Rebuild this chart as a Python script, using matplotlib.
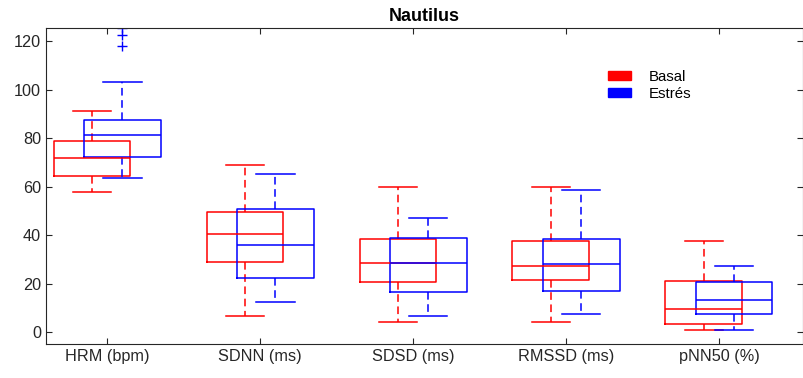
import numpy as np
import matplotlib.pyplot as plt
from matplotlib.patches import Patch

plt.rcParams['font.family'] = ['Liberation Sans', 'DejaVu Sans']

### Data ###

labels = ['HRM (bpm)', 'SDNN (ms)', 'SDSD (ms)', 'RMSSD (ms)', 'pNN50 (%)']

# Basal (red) - whislo, q1, med, q3, whishi
basal_lo = [57.7, 6.5, 4.1, 4.1, 0.8]
basal_q1 = [64.3, 29.1, 20.5, 21.3, 3.2]
basal_med = [71.9, 40.3, 28.7, 27.1, 9.4]
basal_q3 = [78.9, 49.6, 38.6, 37.4, 20.9]
basal_hi = [91.3, 69.0, 59.8, 59.7, 37.4]
basal_out = [[], [], [], [], []]

# Estres (blue)
estres_lo = [63.5, 12.4, 6.7, 7.4, 0.8]
estres_q1 = [72.3, 22.3, 16.4, 16.8, 7.3]
estres_med = [81.1, 36.0, 28.3, 27.9, 13.1]
estres_q3 = [87.6, 50.9, 38.8, 38.4, 20.5]
estres_hi = [103.1, 65.2, 47.0, 58.8, 27.3]
estres_out = [[125.3, 122.3, 117.9], [], [], [], []]


def make_stats(lo, q1, med, q3, hi, out):
    return [dict(whislo=lo[i], q1=q1[i], med=med[i], q3=q3[i], whishi=hi[i], fliers=out[i])
            for i in range(len(lo))]


fig = plt.figure(figsize=(8.04, 3.78), dpi=100)
ax = fig.add_axes([0.0572, 0.0899, 0.9416, 0.8361])

pos = np.arange(1, len(labels) + 1)

for stats, color, shift in [
        (make_stats(basal_lo, basal_q1, basal_med, basal_q3, basal_hi, basal_out), '#ff0000', -0.1),
        (make_stats(estres_lo, estres_q1, estres_med, estres_q3, estres_hi, estres_out), '#0000ff', 0.1)]:
    ax.bxp(stats, positions=pos + shift, widths=0.5, manage_ticks=False,
           boxprops=dict(color=color, lw=1.1),
           medianprops=dict(color=color, lw=1.1),
           whiskerprops=dict(color=color, lw=1.1, ls=(0, (5, 3))),
           capprops=dict(color=color, lw=1.1),
           capwidths=0.25,
           flierprops=dict(marker='+', markeredgecolor=color, markersize=7.5, lw=0))

ax.set_xlim(0.6, 5.55)
ax.set_ylim(-4.9, 125.4)
ax.set_xticks(pos)
ax.set_xticklabels(labels)
ax.set_yticks(np.arange(0, 121, 20))
ax.tick_params(direction='in', top=True, right=True, labelsize=11.7, colors='#262626', length=4)
for s in ax.spines.values():
    s.set_color('#262626')
ax.set_title('Nautilus', fontsize=13, fontweight='bold', pad=5)

handles = [Patch(facecolor='#ff0000', edgecolor='#ff0000', label='Basal'),
           Patch(facecolor='#0000ff', edgecolor='#0000ff', label='Estrés')]
ax.legend(handles=handles, loc='upper left', bbox_to_anchor=(0.725, 0.91), frameon=False,
          fontsize=10.8, handlelength=1.5, handleheight=0.6, handletextpad=1.2, labelspacing=0.2)

fig.savefig('out.png', dpi=100)
